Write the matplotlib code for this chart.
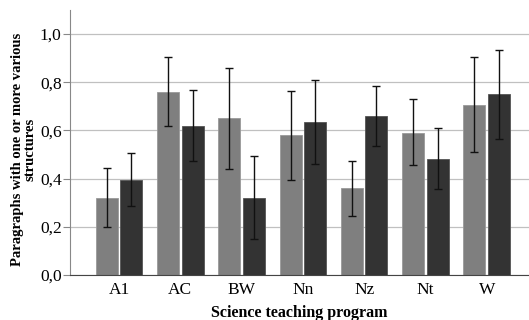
import matplotlib
matplotlib.use("Agg")
import matplotlib.pyplot as plt
import numpy as np

categories = ["A1", "AC", "BW", "Nn", "Nz", "Nt", "W"]
light_vals = [0.32, 0.76, 0.65, 0.58, 0.36, 0.59, 0.705]
light_lo = [0.20, 0.62, 0.44, 0.395, 0.245, 0.455, 0.51]
light_hi = [0.445, 0.905, 0.86, 0.765, 0.475, 0.73, 0.905]
dark_vals = [0.395, 0.62, 0.32, 0.635, 0.66, 0.48, 0.75]
dark_lo = [0.285, 0.475, 0.15, 0.46, 0.535, 0.355, 0.565]
dark_hi = [0.505, 0.77, 0.495, 0.81, 0.785, 0.61, 0.935]
yticks = [0.0, 0.2, 0.4, 0.6, 0.8, 1.0]
ytick_labels = ["0,0", "0,2", "0,4", "0,6", "0,8", "1,0"]

plt.rcParams['font.family'] = ['Liberation Serif', 'DejaVu Serif']

fig = plt.figure(figsize=(5.29, 3.2), dpi=100)
ax = fig.add_axes([0.1323, 0.1406, 0.8677, 0.8281])

x = np.arange(len(categories))
w = 0.36
off = 0.2
lv = np.array(light_vals); dv = np.array(dark_vals)
ax.bar(x - off, lv, w, color="#7f7f7f", edgecolor="#9a9a9a", linewidth=0.6, zorder=2)
ax.bar(x + off, dv, w, color="#333333", edgecolor="#555555", linewidth=0.6, zorder=2)
ax.errorbar(x - off, lv, yerr=[lv - np.array(light_lo), np.array(light_hi) - lv],
            fmt="none", ecolor="#111111", elinewidth=1.0, capsize=3, capthick=1.0, zorder=3)
ax.errorbar(x + off, dv, yerr=[dv - np.array(dark_lo), np.array(dark_hi) - dv],
            fmt="none", ecolor="#111111", elinewidth=1.0, capsize=3, capthick=1.0, zorder=3)

ax.set_xlim(-0.8, 6.69)
ax.set_ylim(0, 1.1)
ax.set_yticks(yticks)
ax.set_yticklabels(ytick_labels, fontsize=12.5)
ax.set_xticks(x)
ax.set_xticklabels(categories, fontsize=12.5)
ax.tick_params(axis="y", length=5, width=0.8, color="#888888", pad=1)
ax.tick_params(axis="x", length=0, pad=5)
ax.yaxis.grid(True, color="#c0c0c0", linewidth=0.9, zorder=0)
ax.set_axisbelow(True)
for s in ["top", "right"]:
    ax.spines[s].set_visible(False)
ax.spines["left"].set_color("#888888")
ax.spines["bottom"].set_color("#444444")

ax.set_ylabel("Paragraphs with one or more various\nstructures", fontsize=10.5,
              fontweight="bold", linespacing=1.0)
ax.yaxis.set_label_coords(-0.072, 0.473)
ax.set_xlabel("Science teaching program", fontsize=11.5, fontweight="bold", labelpad=5)

fig.savefig("out.png", dpi=100)
